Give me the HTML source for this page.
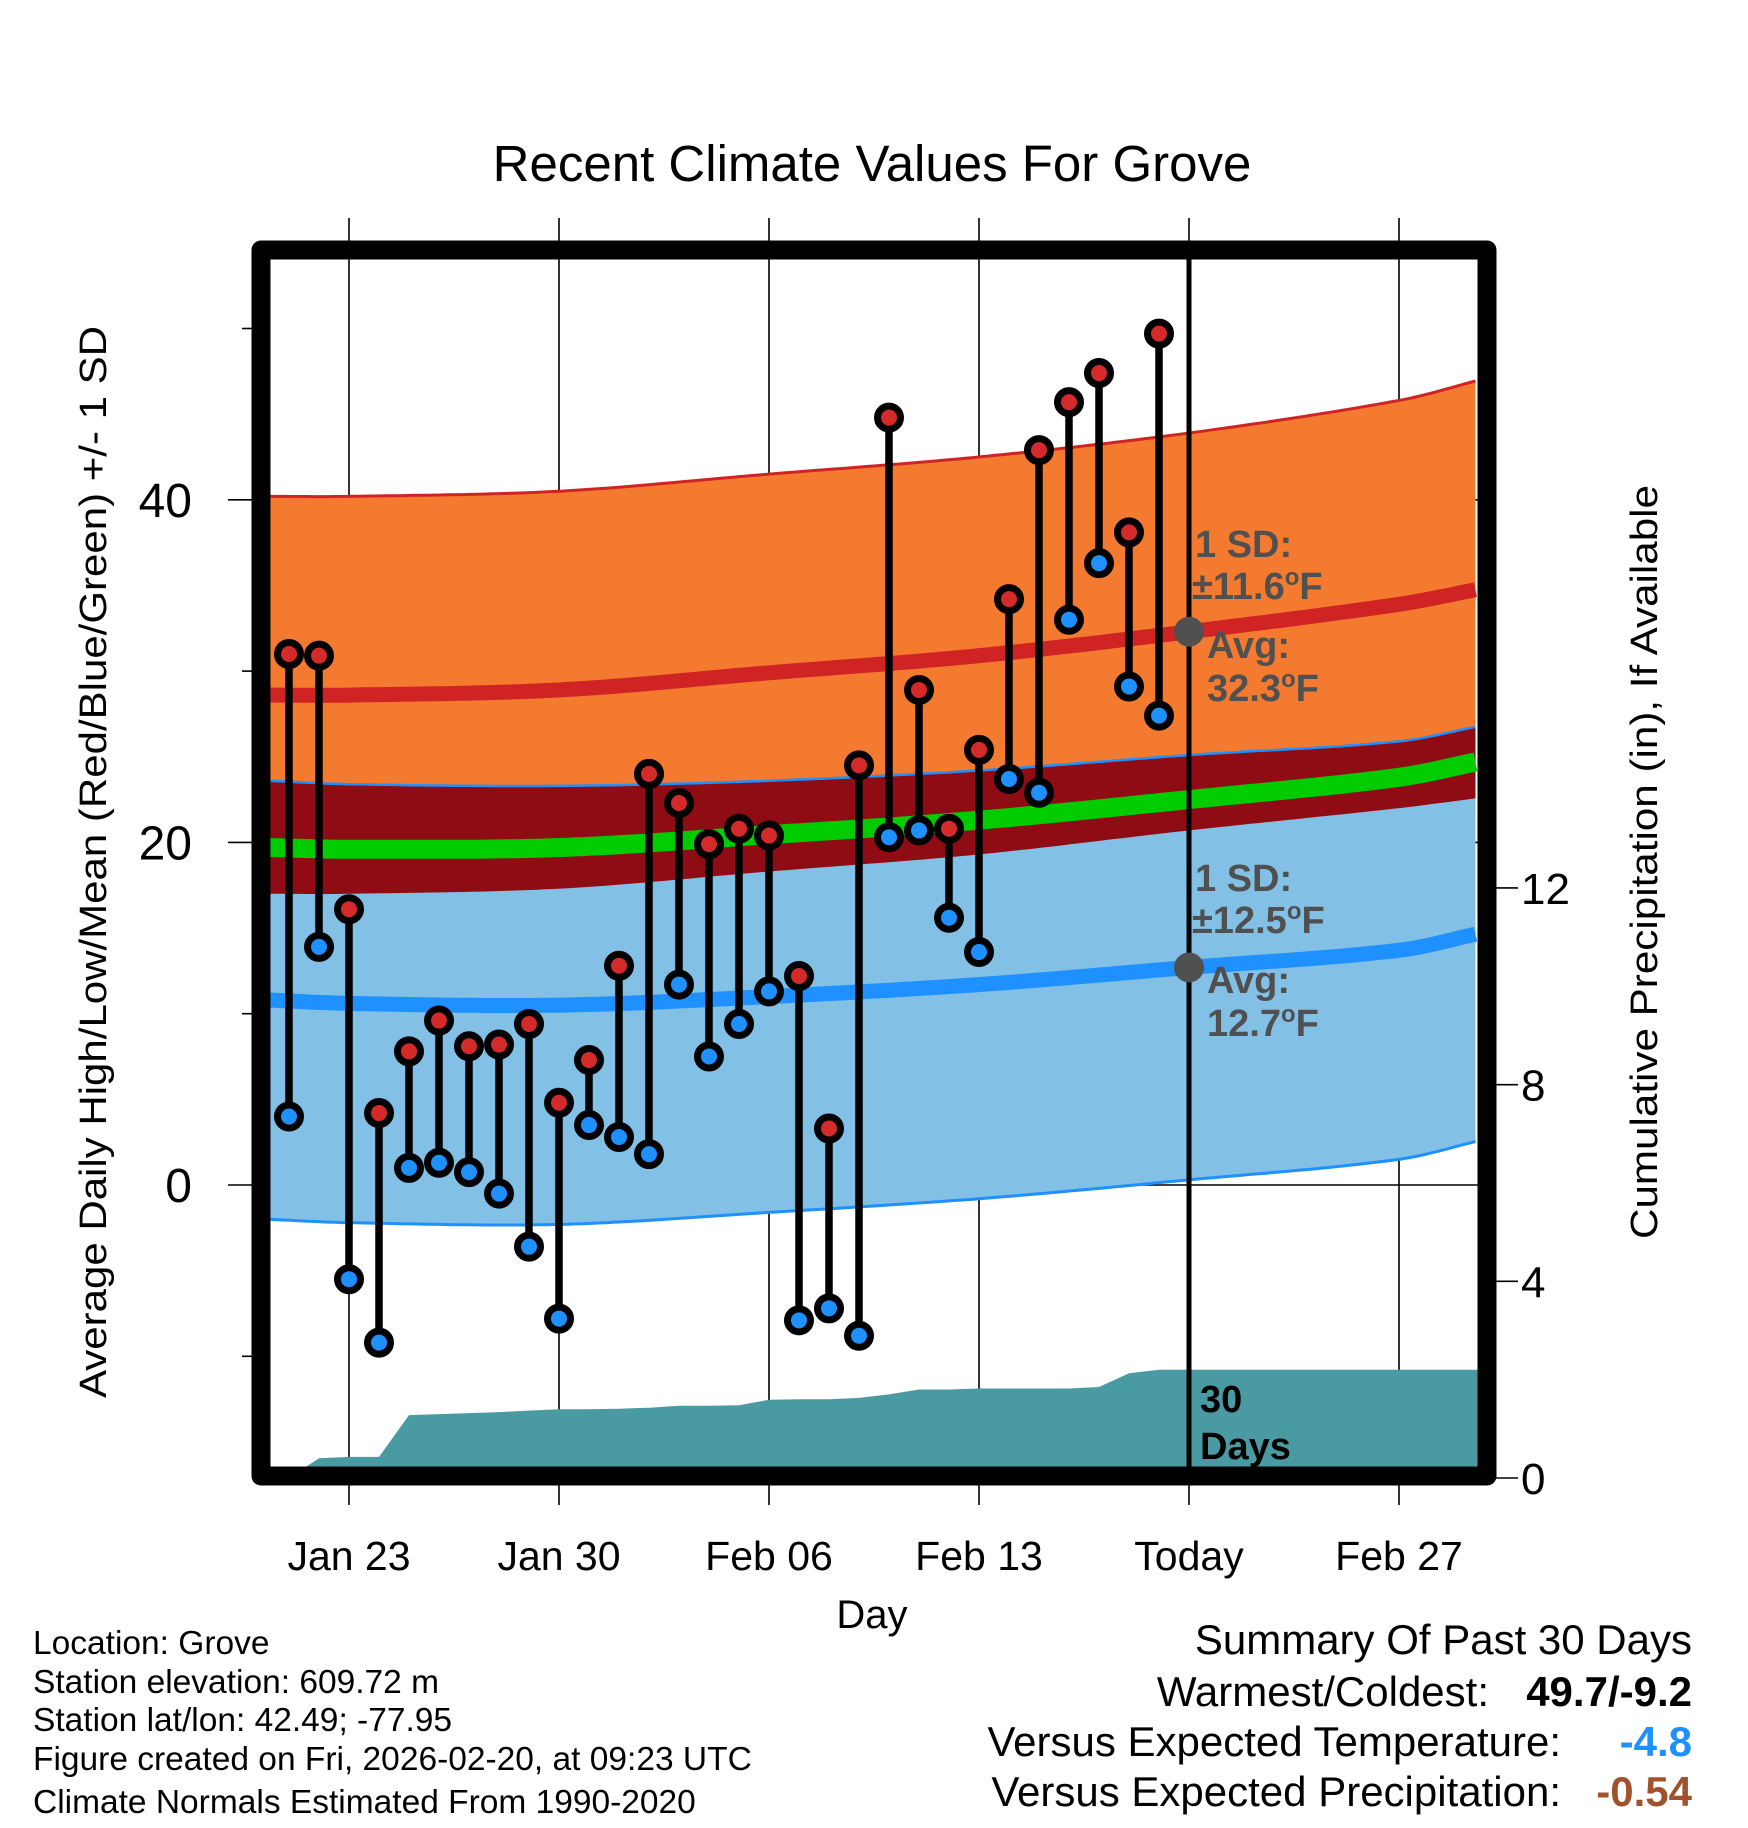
<!DOCTYPE html>
<html><head><meta charset="utf-8"><style>
html,body{margin:0;padding:0;background:#fff;}
svg{display:block;font-family:"Liberation Sans",sans-serif;}
</style></head><body>
<svg id="chart" width="1748" height="1828" viewBox="0 0 1748 1828" xmlns="http://www.w3.org/2000/svg">
<defs><clipPath id="plotclip"><rect x="270" y="260" width="1208" height="1208"/></clipPath></defs>
<text x="872" y="181" font-size="51" text-anchor="middle">Recent Climate Values For Grove</text>
<g id="grid"></g>
<g id="plot" clip-path="url(#plotclip)"></g>
<g id="marks"></g>
<g id="axes"></g>
<g font-weight="bold" font-size="38" fill="#505050">
<text x="1195" y="557">1 SD:</text>
<text x="1192" y="599">±11.6<tspan font-size="24" dy="-14">o</tspan><tspan dy="14">F</tspan></text>
<text x="1207" y="658">Avg:</text>
<text x="1207" y="701">32.3<tspan font-size="24" dy="-14">o</tspan><tspan dy="14">F</tspan></text>
<text x="1195" y="891">1 SD:</text>
<text x="1192" y="933">±12.5<tspan font-size="24" dy="-14">o</tspan><tspan dy="14">F</tspan></text>
<text x="1207" y="993">Avg:</text>
<text x="1207" y="1036">12.7<tspan font-size="24" dy="-14">o</tspan><tspan dy="14">F</tspan></text>
</g>
<g font-weight="bold" font-size="38" fill="#000">
<text x="1200" y="1412">30</text><text x="1200" y="1459">Days</text>
</g>
<rect x="261" y="250" width="1226" height="1226" fill="none" stroke="#000" stroke-width="19" stroke-linejoin="round"/>
<text transform="translate(106,862) rotate(-90)" font-size="38" text-anchor="middle" textLength="1072" lengthAdjust="spacingAndGlyphs">Average Daily High/Low/Mean (Red/Blue/Green) +/- 1 SD</text>
<text transform="translate(1657,862) rotate(-90)" font-size="38" text-anchor="middle" textLength="754" lengthAdjust="spacingAndGlyphs">Cumulative Precipitation (in), If Available</text>
<text x="872" y="1628" font-size="40" text-anchor="middle">Day</text>
<g font-size="33.5">
<text x="33" y="1654">Location: Grove</text>
<text x="33" y="1693">Station elevation: 609.72 m</text>
<text x="33" y="1731">Station lat/lon: 42.49; -77.95</text>
<text x="33" y="1770">Figure created on Fri, 2026-02-20, at 09:23 UTC</text>
<text x="33" y="1813">Climate Normals Estimated From 1990-2020</text>
</g>
<g font-size="42">
<text x="1692" y="1654" text-anchor="end">Summary Of Past 30 Days</text>
<text x="1489" y="1706" text-anchor="end">Warmest/Coldest:</text>
<text x="1692" y="1706" text-anchor="end" font-weight="bold">49.7/-9.2</text>
<text x="1561" y="1756" text-anchor="end">Versus Expected Temperature:</text>
<text x="1692" y="1756" text-anchor="end" font-weight="bold" fill="#1e90ff">-4.8</text>
<text x="1561" y="1806" text-anchor="end">Versus Expected Precipitation:</text>
<text x="1692" y="1806" text-anchor="end" font-weight="bold" fill="#a0522d">-0.54</text>
</g>
</svg>
<script>
// Days are offsets from Jan 23
const obsDays = [-2,-1,0,1,2,3,4,5,6,7,8,9,10,11,12,13,14,15,16,17,18,19,20,21,22,23,24,25,26,27];
const highs = [31.0,30.9,16.1,4.2,7.8,9.6,8.1,8.2,9.4,4.8,7.3,12.8,24.0,22.3,19.9,20.8,20.4,12.2,3.3,24.5,44.8,28.9,20.8,25.4,34.2,42.9,45.7,47.4,38.1,49.7];
const lows = [4.0,13.9,-5.5,-9.2,1.0,1.3,0.75,-0.5,-3.6,-7.8,3.5,2.8,1.8,11.7,7.5,9.4,11.3,-7.9,-7.2,-8.8,20.3,20.7,15.6,13.6,23.7,22.9,33.0,36.3,29.1,27.4];
const precip = [0,0.4,0.43,0.43,1.28,1.3,1.32,1.34,1.37,1.4,1.4,1.41,1.43,1.47,1.47,1.48,1.59,1.6,1.6,1.63,1.7,1.8,1.8,1.82,1.82,1.82,1.82,1.85,2.13,2.2];
const normDays = [-2.7,0,7,14,21,28,35,37.7];
const normHigh = [28.6,28.6,28.9,29.9,30.9,32.3,33.9,34.8];
const normLow = [10.8,10.6,10.5,11.0,11.7,12.7,13.7,14.7];
const sdHigh = [11.6,11.6,11.6,11.6,11.6,11.6,11.9,12.2];
const sdLow = [12.8,12.8,12.8,12.6,12.5,12.4,12.2,12.1];
const xTickDays = [0,7,14,21,28,35];
const xTickLabels = ["Jan 23","Jan 30","Feb 06","Feb 13","Today","Feb 27"];
const yTicks = [0,20,40];
const yMinor = [-10,10,30,50];
const y2Ticks = [0,4,8,12];
const todayDay = 28;

const NS="http://www.w3.org/2000/svg";
const X = d => 349 + d*30;
const Y = v => 1185 - v*17.13;
const Y2 = p => 1478 - p*49.17;
function mk(tag, attrs, parent){const e=document.createElementNS(NS,tag);for(const k in attrs)e.setAttribute(k,attrs[k]);parent.appendChild(e);return e;}
// smooth cubic (Catmull-Rom style) interpolation through normal samples
function interp(arr,d){
  const n=normDays.length;
  let i=0; while(i<n-2 && d>normDays[i+1]) i++;
  const x0=normDays[i],x1=normDays[i+1],h=x1-x0,t=(d-x0)/h;
  const slope=k=>{ if(k===0) return (arr[1]-arr[0])/(normDays[1]-normDays[0]); if(k===n-1) return (arr[n-1]-arr[n-2])/(normDays[n-1]-normDays[n-2]); return (arr[k+1]-arr[k-1])/(normDays[k+1]-normDays[k-1]); };
  const m0=slope(i)*h,m1=slope(i+1)*h;
  const t2=t*t,t3=t2*t;
  return (2*t3-3*t2+1)*arr[i]+(t3-2*t2+t)*m0+(-2*t3+3*t2)*arr[i+1]+(t3-t2)*m1;
}
const fine=[];for(let d=normDays[0];d<=normDays[normDays.length-1]+0.001;d+=0.25)fine.push(d);
const f = fn => fine.map(d=>[X(d),Y(fn(d))]);
const pts = a => a.map(p=>p[0].toFixed(1)+","+p[1].toFixed(1)).join(" ");
const grid=document.getElementById('grid'), plot=document.getElementById('plot'), marks=document.getElementById('marks'), axes=document.getElementById('axes');

const hU=d=>interp(normHigh,d)+interp(sdHigh,d), hL=d=>interp(normHigh,d)-interp(sdHigh,d);
const lU=d=>interp(normLow,d)+interp(sdLow,d), lL=d=>interp(normLow,d)-interp(sdLow,d);
let e;
e=mk('polygon',{points:pts(f(hU).concat(f(hL).reverse())),fill:'#f47a30'},plot);


e=mk('polygon',{points:pts(f(lU).concat(f(lL).reverse())),fill:'#82c0e6'},plot);


e=mk('polygon',{points:pts(f(d=>Math.min(hU(d),lU(d))).concat(f(d=>Math.max(hL(d),lL(d))).reverse())),fill:'#900c14'},plot);


e=mk('polyline',{points:pts(f(lU)),fill:'none',stroke:'#1e90ff','stroke-width':2.5},plot);


e=mk('polyline',{points:pts(f(lL)),fill:'none',stroke:'#1e90ff','stroke-width':3},plot);


e=mk('polyline',{points:pts(f(hU)),fill:'none',stroke:'#d02424','stroke-width':3},plot);


e=mk('polyline',{points:pts(f(d=>(interp(normHigh,d)+interp(normLow,d))/2)),fill:'none',stroke:'#00cc00','stroke-width':19},plot);


e=mk('polyline',{points:pts(f(d=>interp(normHigh,d))),fill:'none',stroke:'#d02424','stroke-width':15},plot);


e=mk('polyline',{points:pts(f(d=>interp(normLow,d))),fill:'none',stroke:'#1e90ff','stroke-width':15},plot);


// precip
const pp=[[X(obsDays[0]),Y2(0)]];
obsDays.forEach((d,i)=>pp.push([X(d),Y2(precip[i])]));
pp.push([X(38),Y2(precip[precip.length-1])],[X(38),Y2(0)]);
e=mk('polygon',{points:pts(pp),fill:'#4a9aa3'},plot);



// grid
xTickDays.forEach(d=>{
  e=mk('line',{x1:X(d),x2:X(d),y1:218,y2:1505,stroke:'#000','stroke-width':1.6},grid);
  
  
});
yTicks.forEach(v=>{
  e=mk('line',{x1:228,x2:1478,y1:Y(v),y2:Y(v),stroke:'#000','stroke-width':1.6},grid);
  
  
  e=mk('text',{x:192,y:Y(v)+17,'font-size':48,'text-anchor':'end'},axes);
  e.textContent=v;
  
  
});
yMinor.forEach(v=>{
  e=mk('line',{x1:242,x2:255,y1:Y(v),y2:Y(v),stroke:'#000','stroke-width':1.6},axes);
  
  
});
y2Ticks.forEach(p=>{
  e=mk('line',{x1:1495,x2:1518,y1:Y2(p),y2:Y2(p),stroke:'#000','stroke-width':1.6},axes);
  
  
  e=mk('text',{x:1521,y:Y2(p)+16,'font-size':44},axes);
  e.textContent=p;
  
  
});
xTickDays.forEach((d,i)=>{
  e=mk('text',{x:X(d),y:1570,'font-size':41,'text-anchor':'middle'},axes);
  e.textContent=xTickLabels[i];
  
  
});
// today line
e=mk('line',{x1:X(todayDay),x2:X(todayDay),y1:258,y2:1470,stroke:'#000','stroke-width':5},marks);


e=mk('circle',{cx:X(todayDay),cy:Y(interp(normHigh,todayDay)),r:15,fill:'#505050'},marks);


e=mk('circle',{cx:X(todayDay),cy:Y(interp(normLow,todayDay)),r:15,fill:'#505050'},marks);


// daily stems
obsDays.forEach((d,i)=>{
  const g=mk('g',{},marks);
  
  
  mk('line',{x1:X(d),x2:X(d),y1:Y(highs[i]),y2:Y(lows[i]),stroke:'#000','stroke-width':7.5},g);
  e=mk('circle',{cx:X(d),cy:Y(highs[i]),r:11.5,fill:'#d42a2a',stroke:'#000','stroke-width':7},g);
  
  
  e=mk('circle',{cx:X(d),cy:Y(lows[i]),r:11.5,fill:'#1e90ff',stroke:'#000','stroke-width':7},g);
  
  
});
</script>
</body></html>
